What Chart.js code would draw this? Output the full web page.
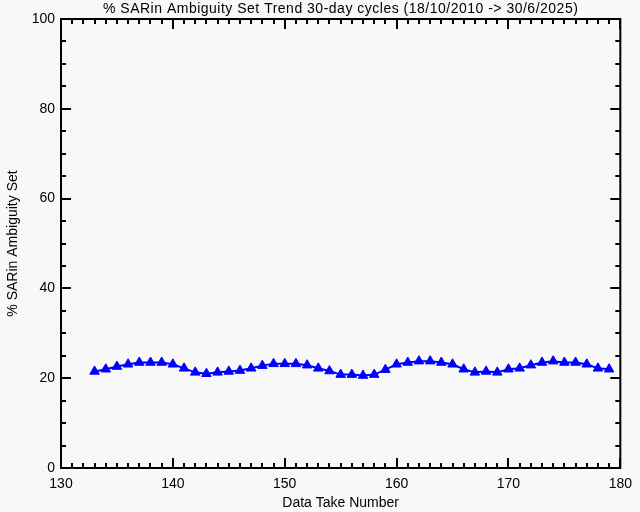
<!DOCTYPE html>
<html>
<head>
<meta charset="utf-8">
<script src="https://cdn.jsdelivr.net/npm/chart.js@4/dist/chart.umd.min.js"></script>
<style>
html,body{margin:0;padding:0;background:#f8f8f8;}
#wrap{width:640px;height:512px;}
</style>
</head>
<body>
<div id="wrap"><canvas id="c" width="640" height="512"></canvas></div>
<script>
const titleText = "% SARin Ambiguity Set Trend 30-day cycles (18/10/2010 -> 30/6/2025)";
const xTitle = "Data Take Number";
const yTitle = "% SARin Ambiguity Set";
const dataTakes = [133,134,135,136,137,138,139,140,141,142,143,144,145,146,147,148,149,150,151,152,153,154,155,156,157,158,159,160,161,162,163,164,165,166,167,168,169,170,171,172,173,174,175,176,177,178,179];
const ambiguityPct = [21.5,22.0,22.6,23.1,23.5,23.5,23.5,23.1,22.2,21.3,21.0,21.3,21.5,21.7,22.2,22.8,23.2,23.2,23.2,22.9,22.2,21.6,20.8,20.8,20.6,20.8,21.9,23.1,23.5,23.8,23.8,23.5,23.1,22.0,21.3,21.5,21.3,22.0,22.2,22.9,23.5,23.8,23.5,23.5,23.1,22.2,22.0];
const xMajor = 10, xMinor = 1, yMajor = 20, yMinor = 5;
const FONT = "Liberation Sans";
const FSIZE = 14;
const FWEIGHT = 'normal';

const framePlugin = {
  id: 'frame',
  beforeDraw(chart) {
    const c = chart.ctx;
    c.save();
    c.fillStyle = '#f8f8f8';
    c.fillRect(0, 0, chart.width, chart.height);
    c.restore();
  },
  afterDraw(chart) {
    const c = chart.ctx, a = chart.chartArea;
    const xs = chart.scales.x, ys = chart.scales.y;
    c.save();
    c.strokeStyle = '#000';
    c.lineWidth = 2;
    c.strokeRect(a.left, a.top, a.right - a.left, a.bottom - a.top);
    c.beginPath();
    for (let v = xs.min; v <= xs.max + 1e-9; v += xMinor) {
      const px = Math.round(xs.getPixelForValue(v));
      const len = (Math.abs(v % xMajor) < 1e-9) ? 10 : 5;
      c.moveTo(px, a.bottom); c.lineTo(px, a.bottom - len);
      c.moveTo(px, a.top); c.lineTo(px, a.top + len);
    }
    for (let v = ys.min; v <= ys.max + 1e-9; v += yMinor) {
      const py = Math.round(ys.getPixelForValue(v));
      const len = (Math.abs(v % yMajor) < 1e-9) ? 10 : 5;
      c.moveTo(a.left, py); c.lineTo(a.left + len, py);
      c.moveTo(a.right, py); c.lineTo(a.right - len, py);
    }
    c.stroke();
    c.fillStyle = '#000';
    c.font = FWEIGHT + ' ' + FSIZE + 'px "' + FONT + '"';
    try { c.letterSpacing = '0.5px'; } catch (e) {}
    c.textAlign = 'center';
    c.textBaseline = 'middle';
    c.fillText(titleText, (a.left + a.right) / 2, 9);
    c.restore();
  }
};

const f = {family: FONT, size: FSIZE, weight: FWEIGHT};

new Chart(document.getElementById('c'), {
  type: 'line',
  data: {
    datasets: [{
      data: dataTakes.map((x, i) => ({x: x, y: ambiguityPct[i]})),
      borderColor: '#0000ff',
      backgroundColor: '#0000ff',
      borderWidth: 2,
      pointStyle: 'triangle',
      pointRadius: 5.5,
      pointHoverRadius: 5.5,
      pointBorderWidth: 1,
      tension: 0
    }]
  },
  options: {
    responsive: false,
    animation: false,
    events: [],
    layout: {padding: {top: 19, right: 19, left: 0, bottom: 0}},
    plugins: {legend: {display: false}, tooltip: {enabled: false}, title: {display: false}},
    scales: {
      x: {
        type: 'linear', min: 130, max: 180,
        border: {display: false},
        grid: {display: true, drawOnChartArea: false, drawTicks: false},
        ticks: {stepSize: xMajor, padding: 8, color: '#000', font: f, maxRotation: 0},
        title: {display: true, text: xTitle, color: '#000', font: f, padding: {top: 4, bottom: 0}},
        afterFit(s) { s.height = 44; }
      },
      y: {
        type: 'linear', min: 0, max: 100,
        border: {display: false},
        grid: {display: true, drawOnChartArea: false, drawTicks: false},
        ticks: {stepSize: yMajor, padding: 6, color: '#000', font: f},
        title: {display: true, text: yTitle, color: '#000', font: f, padding: {top: 5, bottom: 4}},
        afterFit(s) { s.width = 61; }
      }
    }
  },
  plugins: [framePlugin]
});
</script>
</body>
</html>
